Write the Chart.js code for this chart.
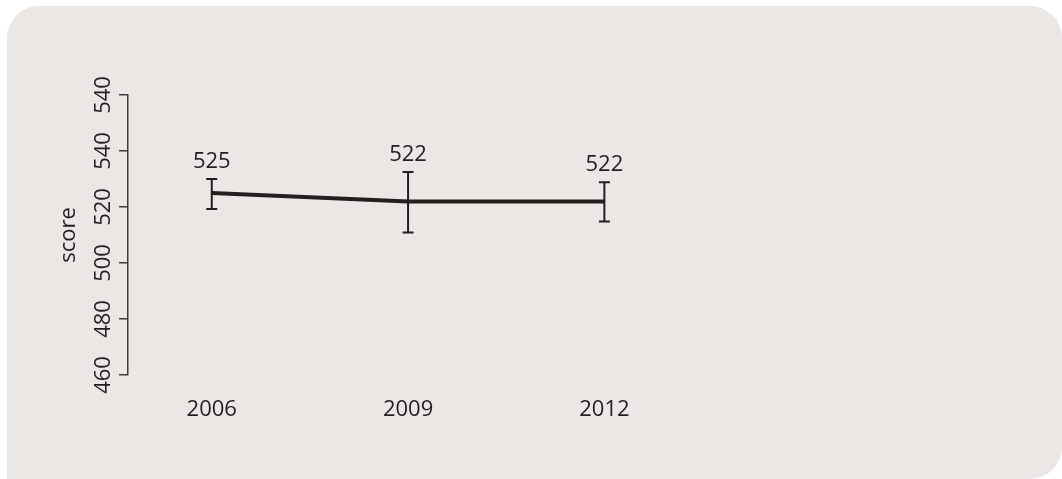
<!DOCTYPE html>
<html>
<head>
<meta charset="utf-8">
<script src="https://cdn.jsdelivr.net/npm/chart.js@4.4.0/dist/chart.umd.min.js"></script>
<style>
    html, body { margin: 0; padding: 0; background: #fff; }
    #panel { position: absolute; left: 7px; top: 6px; width: 1055px; height: 473px; background: #ebe7e4; border-radius: 32px 32px 32px 0; }
    #wrap { position: absolute; left: 0; top: 0; width: 1062px; height: 479px; }
</style>
</head>
<body>
<div id="panel"></div>
<div id="wrap"><canvas id="myChart"></canvas></div>
<script>
// data
const years = [2006, 2009, 2012];
const scores = [525, 522, 522];
const upper = [530, 532.5, 528.8];
const lower = [519.3, 510.9, 514.8];
// the source labels the top tick 540 twice, kept as is
const yTickLabels = ['460', '480', '500', '520', '540', '540'];
const yTitle = 'score';

const ink = '#231f20';
const axisInk = '#403c3d';
const font = '"Open Sans", sans-serif';

// error bars, value labels, rotated y labels and y title
const extras = {
    id: 'extras',
    afterDatasetsDraw(chart) {
        const ctx = chart.ctx;
        const xs = chart.scales.x, ys = chart.scales.y;
        ctx.save();
        ctx.strokeStyle = ink;
        ctx.lineWidth = 2;
        ctx.fillStyle = ink;
        ctx.font = '22px ' + font;
        ctx.textAlign = 'center';
        ctx.textBaseline = 'middle';
        years.forEach((yr, i) => {
            const px = xs.getPixelForValue(yr);
            const top = ys.getPixelForValue(upper[i]);
            const bot = ys.getPixelForValue(lower[i]);
            ctx.beginPath();
            ctx.moveTo(px, top); ctx.lineTo(px, bot);
            ctx.moveTo(px - 5.5, top); ctx.lineTo(px + 5.5, top);
            ctx.moveTo(px - 5.5, bot); ctx.lineTo(px + 5.5, bot);
            ctx.stroke();
            ctx.fillText(String(scores[i]), px, top - 17.5);
        });

        const lx = chart.chartArea.left - 24;
        ys.ticks.forEach((t, i) => {
            const py = ys.getPixelForValue(t.value);
            ctx.save();
            ctx.translate(lx, py);
            ctx.rotate(-Math.PI / 2);
            ctx.fillText(yTickLabels[i], 0, 0);
            ctx.restore();
        });

        ctx.save();
        ctx.translate(chart.chartArea.left - 59, (chart.chartArea.top + chart.chartArea.bottom) / 2);
        ctx.rotate(-Math.PI / 2);
        ctx.fillText(yTitle, 0, 0);
        ctx.restore();
        ctx.restore();
    }
};

window.onload = () => {
    const ctx = document.getElementById('myChart').getContext('2d');
    const myChart = new Chart(ctx, {
        type: 'line',
        data: {
            datasets: [{
                data: years.map((yr, i) => ({ x: yr, y: scores[i] })),
                borderColor: ink,
                borderWidth: 4,
                pointRadius: 0,
                tension: 0,
                fill: false
            }]
        },
        options: {
            responsive: true,
            maintainAspectRatio: false,
            animation: false,
            layout: {
                padding: { left: 119, top: 95, right: 65, bottom: 44 }
            },
            plugins: {
                legend: { display: false },
                tooltip: { enabled: false }
            },
            scales: {
                x: {
                    type: 'linear',
                    min: 2004.72,
                    max: 2018,
                    afterBuildTicks: s => { s.ticks = years.map(v => ({ value: v })); },
                    afterFit: s => { s.height = 60; },
                    grid: { display: false, drawTicks: false },
                    border: { display: false },
                    ticks: {
                        autoSkip: false,
                        maxRotation: 0,
                        padding: 22,
                        color: ink,
                        font: { family: font, size: 22 },
                        callback: v => String(v)
                    }
                },
                y: {
                    min: 460,
                    max: 560,
                    afterFit: s => { s.width = 9; },
                    grid: {
                        drawOnChartArea: false,
                        drawTicks: true,
                        tickLength: 9,
                        color: axisInk,
                        lineWidth: 1.5
                    },
                    border: { color: axisInk, width: 1.5 },
                    ticks: { display: false, stepSize: 20 }
                }
            }
        },
        plugins: [extras]
    });
};
</script>
</body>
</html>
